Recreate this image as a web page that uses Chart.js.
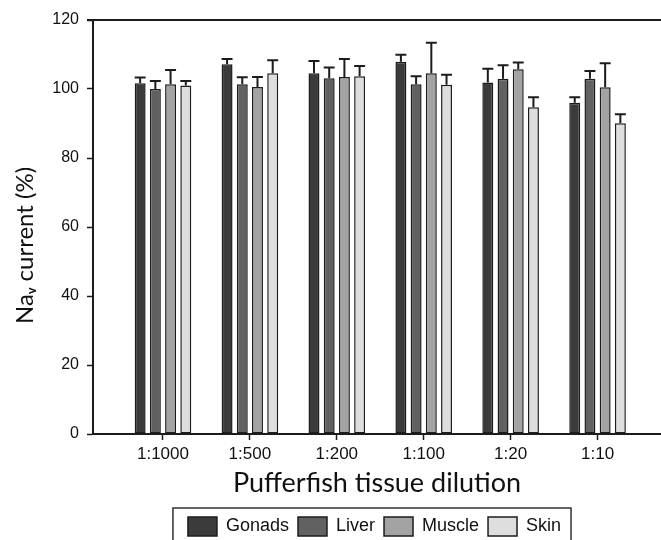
<!DOCTYPE html>
<html>
<head>
<meta charset="utf-8">
<script src="https://cdn.jsdelivr.net/npm/chart.js@4"></script>
<style>
  body { margin: 0; background: #fff; }
  #wrap { width: 661px; height: 540px; }
</style>
</head>
<body>
<div id="wrap"><canvas id="navChart" width="661" height="540"></canvas></div>
<script>
const dilutions = ['1:1000', '1:500', '1:200', '1:100', '1:20', '1:10'];
const tissues = ['Gonads', 'Liver', 'Muscle', 'Skin'];

const gonads = [101.7, 107.2, 104.6, 107.9, 101.9, 96.0];
const liver = [100.0, 101.4, 103.1, 101.4, 103.0, 103.0];
const muscle = [101.4, 100.6, 103.5, 104.6, 105.7, 100.5];
const skin = [101.0, 104.6, 103.7, 101.2, 94.7, 90.1];

// upper error (SEM) for each bar
const gonadsErr = [1.6, 1.5, 3.5, 2.0, 4.0, 1.6];
const liverErr = [2.3, 2.0, 3.1, 2.3, 3.9, 2.2];
const muscleErr = [4.1, 2.9, 5.2, 8.8, 2.0, 7.0];
const skinErr = [1.3, 3.7, 3.0, 2.9, 2.9, 2.6];

const yTicks = [0, 20, 40, 60, 80, 100, 120];

const fills = ['#3b3b3b', '#616161', '#a3a3a3', '#dedede'];
const values = [gonads, liver, muscle, skin];
const errors = [gonadsErr, liverErr, muscleErr, skinErr];

const datasets = tissues.map((name, i) => ({
    label: name,
    data: values[i].map((v, j) => ({ x: j + 1, y: v })),
    errors: errors[i],
    backgroundColor: fills[i],
    borderColor: '#1c1c1c',
    borderWidth: 1.5,
    borderSkipped: false,
    categoryPercentage: 0.7,
    barPercentage: 0.72
}));

// error bars, top frame line, legend box
const extras = {
    id: 'extras',
    afterLayout(chart) {
        // legend sits under the plot, a bit right of the canvas centre
        const lg = chart.legend;
        lg.left += 44;
        lg.right += 44;
        lg.top += 6;
        lg.bottom += 6;
    },
    afterDatasetsDraw(chart) {
        const ctx = chart.ctx;
        const yScale = chart.scales.y;
        ctx.save();
        ctx.strokeStyle = '#1c1c1c';
        ctx.lineWidth = 2;
        chart.data.datasets.forEach((ds, i) => {
            const meta = chart.getDatasetMeta(i);
            meta.data.forEach((bar, j) => {
                const top = yScale.getPixelForValue(ds.data[j].y + ds.errors[j]);
                const half = bar.width / 2;
                ctx.beginPath();
                ctx.moveTo(bar.x, bar.y);
                ctx.lineTo(bar.x, top);
                ctx.moveTo(bar.x - half, top);
                ctx.lineTo(bar.x + half, top);
                ctx.stroke();
            });
        });
        const area = chart.chartArea;
        ctx.beginPath();
        ctx.moveTo(area.left - 6, area.top);
        ctx.lineTo(area.right, area.top);
        ctx.stroke();
        ctx.restore();
    },
    afterDraw(chart) {
        const lg = chart.legend;
        if (!lg.lineWidths) return;
        const pad = lg.options.labels.padding;
        const lw = lg.lineWidths[0];
        const start = (lg.left + pad + lg.right - lw) / 2;
        const end = start + lw - pad;
        const ctx = chart.ctx;
        ctx.save();
        ctx.strokeStyle = '#333';
        ctx.lineWidth = 1.5;
        ctx.strokeRect(start - 15, lg.top, end - start + 25, 60);
        ctx.restore();
    }
};

new Chart(document.getElementById('navChart'), {
    type: 'bar',
    data: { datasets: datasets },
    plugins: [extras],
    options: {
        responsive: false,
        animation: false,
        layout: { padding: { top: 20, right: 0, left: 0, bottom: 0 } },
        plugins: {
            tooltip: { enabled: false },
            legend: {
                position: 'bottom',
                labels: {
                    font: { family: 'Liberation Sans, Arial', size: 18 },
                    color: '#111',
                    boxWidth: 29,
                    boxHeight: 19,
                    padding: 9
                }
            }
        },
        scales: {
            x: {
                type: 'linear',
                min: 0.195,
                max: 6.73,
                offset: false,
                afterBuildTicks: (scale) => {
                    scale.ticks = dilutions.map((d, i) => ({ value: i + 1 }));
                },
                afterFit: (scale) => { scale.height = 68; },
                ticks: {
                    callback: (v) => dilutions[v - 1],
                    font: { family: 'Liberation Sans, Arial', size: 17 },
                    color: '#111',
                    padding: 4,
                    maxRotation: 0
                },
                grid: { drawOnChartArea: false, offset: false, tickLength: 6, color: '#1c1c1c', tickWidth: 1.5 },
                border: { color: '#1c1c1c', width: 2 },
                title: {
                    display: true,
                    text: 'Pufferfish tissue dilution',
                    font: { family: 'Lato', size: 27 },
                    color: '#111',
                    padding: { top: 0, bottom: 3 }
                }
            },
            y: {
                min: 0,
                max: 120,
                afterBuildTicks: (scale) => {
                    scale.ticks = yTicks.map(v => ({ value: v }));
                },
                afterFit: (scale) => { scale.width = 93; },
                ticks: {
                    font: { family: 'Liberation Sans, Arial', size: 16 },
                    color: '#111',
                    padding: 8
                },
                grid: { drawOnChartArea: false, tickLength: 6, color: '#1c1c1c', tickWidth: 1.5 },
                border: { color: '#1c1c1c', width: 2 },
                title: {
                    display: true,
                    text: 'Naᵥ current (%)      ',
                    font: { family: 'Lato', size: 24 },
                    color: '#111',
                    padding: { top: 11, bottom: 0 }
                }
            }
        }
    }
});
</script>
</body>
</html>
